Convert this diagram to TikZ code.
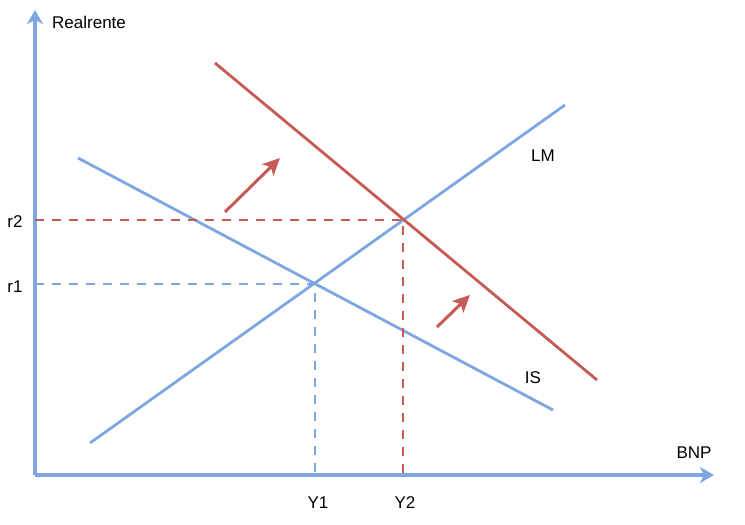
\documentclass[tikz,border=0pt]{standalone}
\usepackage{fontspec}
\setmainfont{Liberation Sans}
\usetikzlibrary{arrows.meta}
\definecolor{lblue}{HTML}{7EA6E0}
\definecolor{lred}{HTML}{C65A55}
\begin{document}
\begin{tikzpicture}[x=1pt,y=-1pt,
  curve/.style={line width=2.8pt},
  axis/.style={line width=3.2pt,lblue,-{Stealth[length=14pt,width=16pt,inset=4pt]}},
  guide/.style={line width=2.8pt,dash pattern=on 9pt off 8pt},
  movearrow/.style={line width=3pt,lred,-{Stealth[length=17pt,width=16pt,inset=4pt]}},
  lbl/.style={font=\fontsize{17}{19}\selectfont,inner sep=0pt}]
\useasboundingbox (0,0) rectangle (745,525);
% axes
\coordinate (O) at (35,475);
\coordinate (ytop) at (35,10);
\coordinate (xend) at (714,475);
\draw[axis] (O) -- (ytop);
\draw[axis] (O) -- (xend);
% curves
\coordinate (is1) at (78,158);
\coordinate (is2) at (553,410);
\coordinate (lm1) at (90,443);
\coordinate (lm2) at (565,105);
\coordinate (rs1) at (215,63);
\coordinate (rs2) at (597,380);
\draw[curve,lblue] (is1) -- (is2);
\draw[curve,lblue] (lm1) -- (lm2);
\draw[curve,lred] (rs1) -- (rs2);
% equilibria
\coordinate (E1) at (315,284);
\coordinate (E2) at (403,220);
\coordinate (r1) at (35,284);
\coordinate (r2) at (35,220);
\coordinate (Y1) at (315,475);
\coordinate (Y2) at (403,475);
\draw[guide,lblue] (r1) -- (E1) -- (Y1);
\draw[guide,lred] (r2) -- (E2) -- (Y2);
% shift arrows
\coordinate (a1s) at (225,212);
\coordinate (a1e) at (280,158);
\coordinate (a2s) at (437,327);
\coordinate (a2e) at (470,295);
\draw[movearrow] (a1s) -- (a1e);
\draw[movearrow] (a2s) -- (a2e);
% labels
\node[lbl,anchor=west] (tr) at (52,22) {Realrente};
\node[lbl] (tbnp) at (694,453) {BNP};
\node[lbl] (tlm) at (543,156) {LM};
\node[lbl] (tis) at (533,378) {IS};
\node[lbl] (tr2) at (15,222) {r2};
\node[lbl] (tr1) at (15,287) {r1};
\node[lbl] (ty1) at (318,503) {Y1};
\node[lbl] (ty2) at (405,503) {Y2};
\end{tikzpicture}
\end{document}
